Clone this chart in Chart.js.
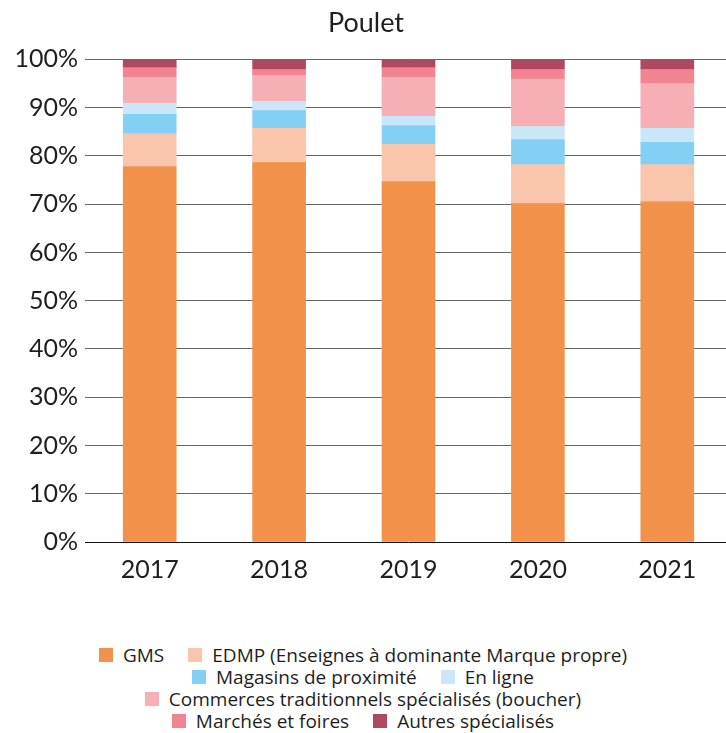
<!DOCTYPE html>
<html>
<head>
<meta charset="utf-8">
<script src="https://cdn.jsdelivr.net/npm/chart.js@4"></script>
<style>
  html, body { margin: 0; padding: 0; background: #fff; overflow: hidden; }
  #wrap { position: relative; width: 726px; height: 733px; overflow: hidden; }
  #legend {
    position: absolute; top: 644px; left: 0; width: 726px;
    display: flex; justify-content: center;
  }
  #legend ul {
    list-style: none; margin: 0; padding: 0; max-width: 580px;
    display: flex; flex-wrap: wrap; justify-content: center; column-gap: 24px;
  }
  #legend li {
    display: flex; align-items: center; height: 22px;
    font-family: 'Open Sans', sans-serif; font-size: 19px; color: #1e1e1e; white-space: nowrap;
  }
  #legend li span { display: inline-block; width: 14px; height: 14px; margin-right: 10px; }
</style>
</head>
<body>
<div id="wrap">
  <canvas id="myChart" width="732" height="598"></canvas>
  <div id="legend"></div>
</div>
<script>
  const labels = ['2017', '2018', '2019', '2020', '2021'];

  const gms       = [77.8, 78.6, 74.7, 70.1, 70.5];
  const edmp      = [6.8, 7.1, 7.7, 8.1, 7.7];
  const magasins  = [4.0, 3.7, 3.9, 5.2, 4.6];
  const enLigne   = [2.3, 1.9, 1.9, 2.7, 2.9];
  const commerces = [5.4, 5.4, 8.1, 9.8, 9.3];
  const marches   = [2.0, 1.2, 2.0, 2.0, 2.9];
  const autres    = [1.7, 2.1, 1.7, 2.1, 2.1];

  const data = {
    labels: labels,
    datasets: [
      { label: 'GMS', data: gms, backgroundColor: '#f2924a' },
      { label: 'EDMP (Enseignes à dominante Marque propre)', data: edmp, backgroundColor: '#f9c5ab' },
      { label: 'Magasins de proximité', data: magasins, backgroundColor: '#84cff4' },
      { label: 'En ligne', data: enLigne, backgroundColor: '#c9e7f8' },
      { label: 'Commerces traditionnels spécialisés (boucher)', data: commerces, backgroundColor: '#f5afb5' },
      { label: 'Marchés et foires', data: marches, backgroundColor: '#f28390' },
      { label: 'Autres spécialisés', data: autres, backgroundColor: '#ae4961' }
    ]
  };

  // legend as html, built from the chart's own items
  const htmlLegend = {
    id: 'htmlLegend',
    afterUpdate(chart) {
      const box = document.getElementById('legend');
      box.innerHTML = '';
      const ul = document.createElement('ul');
      chart.options.plugins.legend.labels.generateLabels(chart).forEach(item => {
        const li = document.createElement('li');
        const sw = document.createElement('span');
        sw.style.background = item.fillStyle;
        li.appendChild(sw);
        li.appendChild(document.createTextNode(item.text));
        ul.appendChild(li);
      });
      box.appendChild(ul);
    }
  };

  const config = {
    type: 'bar',
    data: data,
    options: {
      responsive: false,
      animation: false,
      barThickness: 53,
      plugins: {
        legend: { display: false },
        tooltip: { enabled: false },
        title: {
          display: true,
          text: 'Poulet',
          color: '#1e1e1e',
          font: { family: 'Lato', size: 27, weight: 'normal', lineHeight: 1.2 },
          padding: { top: 7, bottom: 20 }
        }
      },
      scales: {
        x: {
          stacked: true,
          grid: { display: false, drawTicks: false },
          border: { display: false },
          ticks: {
            color: '#1e1e1e',
            padding: 13,
            font: { family: 'Lato', size: 25 }
          }
        },
        y: {
          stacked: true,
          min: 0,
          max: 100,
          afterFit(scale) { scale.width = 85; },
          grid: {
            drawTicks: false,
            color: ctx => ctx.tick && ctx.tick.value === 0 ? '#111' : '#666'
          },
          border: { display: false },
          ticks: {
            stepSize: 10,
            color: '#1e1e1e',
            padding: 7,
            font: { family: 'Lato', size: 25 },
            callback: v => v + '%'
          }
        }
      }
    },
    plugins: [htmlLegend]
  };

  const myChart = new Chart(
    document.getElementById('myChart'),
    config
  );
</script>
</body>
</html>
